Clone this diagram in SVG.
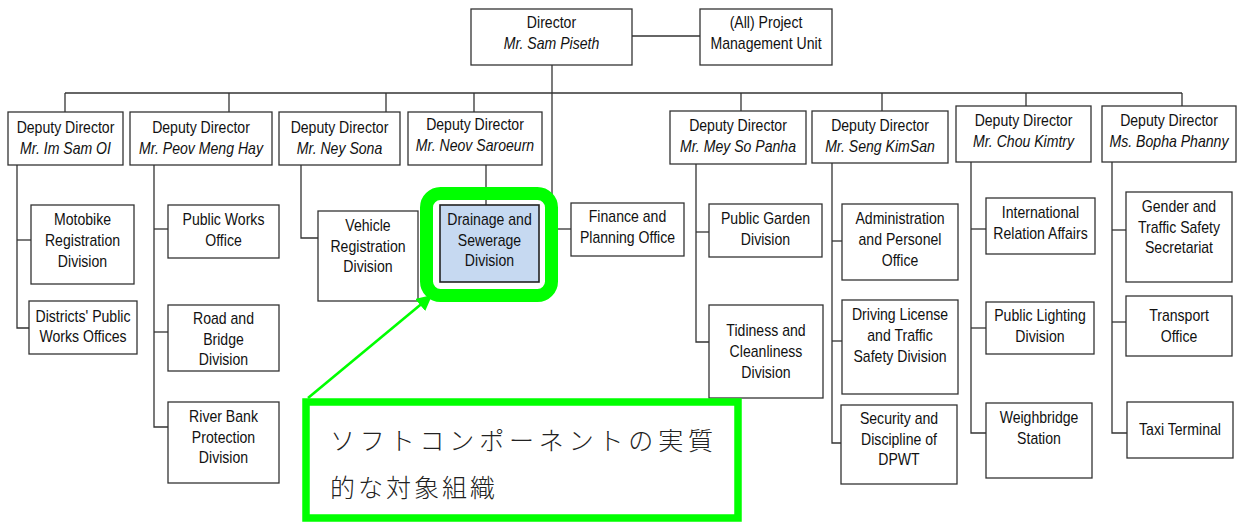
<svg xmlns="http://www.w3.org/2000/svg" width="1243" height="522" viewBox="0 0 1243 522">
<defs>
<style>
.b{fill:#fff;stroke:#333;stroke-width:1.3}
.t{font-family:"Liberation Sans",Arial,sans-serif;font-size:16px;fill:#111;text-anchor:middle}
.i{font-style:italic}
.c line,.c polyline{stroke:#333;stroke-width:1.3;fill:none}
.jp{font-family:"Noto Sans CJK JP",sans-serif;font-size:25px;font-weight:300;fill:#222}
</style>
<marker id="ah" viewBox="0 0 10 10" refX="9" refY="5" markerWidth="6" markerHeight="6" markerUnits="strokeWidth" orient="auto">
<path d="M0,0 L10,5 L0,10 z" fill="#00ff00"/>
</marker>
</defs>
<rect width="1243" height="522" fill="#fff"/>

<g class="c" id="connectors">
<line x1="632" y1="36" x2="700" y2="36"/>
<line x1="65" y1="93" x2="1182" y2="93"/>
<line x1="552" y1="65" x2="552" y2="229"/>
<line x1="552" y1="229" x2="571" y2="229"/>
<line x1="65" y1="93" x2="65" y2="112"/>
<line x1="229" y1="93" x2="229" y2="112"/>
<line x1="386" y1="93" x2="386" y2="112"/>
<line x1="474" y1="93" x2="474" y2="112"/>
<line x1="741" y1="93" x2="741" y2="111"/>
<line x1="882" y1="93" x2="882" y2="111"/>
<line x1="1026" y1="93" x2="1026" y2="106"/>
<line x1="1182" y1="93" x2="1182" y2="106"/>
<polyline points="17,165 17,328 29,328"/>
<line x1="17" y1="240" x2="31" y2="240"/>
<polyline points="154,165 154,427 168,427"/>
<line x1="154" y1="229" x2="168" y2="229"/>
<line x1="154" y1="332" x2="168" y2="332"/>
<polyline points="301,165 301,238 318,238"/>
<line x1="486" y1="165" x2="486" y2="205"/>
<polyline points="696,164 696,342 709,342"/>
<line x1="696" y1="232" x2="709" y2="232"/>
<polyline points="832,163 832,443 841,443"/>
<line x1="832" y1="241" x2="842" y2="241"/>
<line x1="832" y1="341" x2="842" y2="341"/>
<polyline points="971,162 971,433 986,433"/>
<line x1="971" y1="229" x2="986" y2="229"/>
<line x1="971" y1="328" x2="986" y2="328"/>
<polyline points="1112,162 1112,433 1127,433"/>
<line x1="1112" y1="230" x2="1126" y2="230"/>
<line x1="1112" y1="322" x2="1126" y2="322"/>
</g>

<g id="director"><rect class="b" x="471" y="9" width="161" height="56"/>
<g transform="translate(551.5 0) scale(0.88 1)"><text class="t" x="0" y="28">Director</text><text class="t i" x="0" y="49">Mr. Sam Piseth</text></g></g>
<g id="pmu"><rect class="b" x="700" y="9" width="132" height="56"/>
<g transform="translate(766 0) scale(0.88 1)"><text class="t" x="0" y="28">(All) Project</text><text class="t" x="0" y="49">Management Unit</text></g></g>

<g id="dd-imsam"><rect class="b" x="8" y="112" width="115" height="53"/>
<g transform="translate(65.5 0) scale(0.88 1)"><text class="t" x="0" y="133">Deputy Director</text><text class="t i" x="0" y="154">Mr. Im Sam OI</text></g></g>
<g id="dd-peov"><rect class="b" x="130" y="112" width="142" height="53"/>
<g transform="translate(201 0) scale(0.88 1)"><text class="t" x="0" y="133">Deputy Director</text><text class="t i" x="0" y="154">Mr. Peov Meng Hay</text></g></g>
<g id="dd-ney"><rect class="b" x="279" y="112" width="121" height="53"/>
<g transform="translate(339.5 0) scale(0.88 1)"><text class="t" x="0" y="133">Deputy Director</text><text class="t i" x="0" y="154">Mr. Ney Sona</text></g></g>
<g id="dd-neov"><rect class="b" x="408" y="112" width="134" height="53"/>
<g transform="translate(475 0) scale(0.88 1)"><text class="t" x="0" y="130">Deputy Director</text><text class="t i" x="0" y="151">Mr. Neov Saroeurn</text></g></g>
<g id="dd-mey"><rect class="b" x="670" y="111" width="136" height="53"/>
<g transform="translate(738 0) scale(0.88 1)"><text class="t" x="0" y="131">Deputy Director</text><text class="t i" x="0" y="152">Mr. Mey So Panha</text></g></g>
<g id="dd-seng"><rect class="b" x="812" y="111" width="136" height="52"/>
<g transform="translate(880 0) scale(0.88 1)"><text class="t" x="0" y="131">Deputy Director</text><text class="t i" x="0" y="152">Mr. Seng KimSan</text></g></g>
<g id="dd-chou"><rect class="b" x="956" y="106" width="135" height="56"/>
<g transform="translate(1023.5 0) scale(0.88 1)"><text class="t" x="0" y="126">Deputy Director</text><text class="t i" x="0" y="147">Mr. Chou Kimtry</text></g></g>
<g id="dd-bopha"><rect class="b" x="1102" y="106" width="134" height="56"/>
<g transform="translate(1169 0) scale(0.88 1)"><text class="t" x="0" y="126">Deputy Director</text><text class="t i" x="0" y="147">Ms. Bopha Phanny</text></g></g>

<g id="motobike"><rect class="b" x="31" y="205" width="103" height="79"/>
<g transform="translate(82.5 0) scale(0.88 1)"><text class="t" x="0" y="225">Motobike</text><text class="t" x="0" y="246">Registration</text><text class="t" x="0" y="267">Division</text></g></g>
<g id="districts"><rect class="b" x="29" y="301" width="108" height="53"/>
<g transform="translate(83 0) scale(0.88 1)"><text class="t" x="0" y="322">Districts' Public</text><text class="t" x="0" y="342">Works Offices</text></g></g>
<g id="pwo"><rect class="b" x="168" y="205" width="111" height="53"/>
<g transform="translate(223.5 0) scale(0.88 1)"><text class="t" x="0" y="225">Public Works</text><text class="t" x="0" y="246">Office</text></g></g>
<g id="road"><rect class="b" x="168" y="305" width="111" height="66"/>
<g transform="translate(223.5 0) scale(0.88 1)"><text class="t" x="0" y="324">Road and</text><text class="t" x="0" y="345">Bridge</text><text class="t" x="0" y="365">Division</text></g></g>
<g id="river"><rect class="b" x="168" y="402" width="111" height="81"/>
<g transform="translate(223.5 0) scale(0.88 1)"><text class="t" x="0" y="422">River Bank</text><text class="t" x="0" y="443">Protection</text><text class="t" x="0" y="463">Division</text></g></g>
<g id="vehicle"><rect class="b" x="318" y="211" width="100" height="90"/>
<g transform="translate(368 0) scale(0.88 1)"><text class="t" x="0" y="231">Vehicle</text><text class="t" x="0" y="252">Registration</text><text class="t" x="0" y="272">Division</text></g></g>
<g id="drainage"><rect x="440" y="205" width="99" height="77" fill="#c6d9f1" stroke="#222" stroke-width="1.6"/>
<g transform="translate(489.5 0) scale(0.88 1)"><text class="t" x="0" y="225">Drainage and</text><text class="t" x="0" y="246">Sewerage</text><text class="t" x="0" y="266">Division</text></g></g>
<g id="finance"><rect class="b" x="571" y="203" width="113" height="53"/>
<g transform="translate(627.5 0) scale(0.88 1)"><text class="t" x="0" y="222">Finance and</text><text class="t" x="0" y="243">Planning Office</text></g></g>
<g id="garden"><rect class="b" x="709" y="204" width="113" height="53"/>
<g transform="translate(765.5 0) scale(0.88 1)"><text class="t" x="0" y="224">Public Garden</text><text class="t" x="0" y="245">Division</text></g></g>
<g id="tidiness"><rect class="b" x="709" y="305" width="114" height="93"/>
<g transform="translate(766 0) scale(0.88 1)"><text class="t" x="0" y="336">Tidiness and</text><text class="t" x="0" y="357">Cleanliness</text><text class="t" x="0" y="378">Division</text></g></g>
<g id="admin"><rect class="b" x="842" y="204" width="116" height="76"/>
<g transform="translate(900 0) scale(0.88 1)"><text class="t" x="0" y="224">Administration</text><text class="t" x="0" y="245">and Personel</text><text class="t" x="0" y="266">Office</text></g></g>
<g id="driving"><rect class="b" x="842" y="300" width="116" height="94"/>
<g transform="translate(900 0) scale(0.88 1)"><text class="t" x="0" y="320">Driving License</text><text class="t" x="0" y="341">and Traffic</text><text class="t" x="0" y="362">Safety Division</text></g></g>
<g id="security"><rect class="b" x="841" y="405" width="116" height="79"/>
<g transform="translate(899 0) scale(0.88 1)"><text class="t" x="0" y="424">Security and</text><text class="t" x="0" y="445">Discipline of</text><text class="t" x="0" y="465">DPWT</text></g></g>
<g id="international"><rect class="b" x="986" y="198" width="109" height="56"/>
<g transform="translate(1040.5 0) scale(0.88 1)"><text class="t" x="0" y="218">International</text><text class="t" x="0" y="239">Relation Affairs</text></g></g>
<g id="lighting"><rect class="b" x="986" y="302" width="108" height="52"/>
<g transform="translate(1040 0) scale(0.88 1)"><text class="t" x="0" y="321">Public Lighting</text><text class="t" x="0" y="342">Division</text></g></g>
<g id="weighbridge"><rect class="b" x="986" y="403" width="106" height="75"/>
<g transform="translate(1039 0) scale(0.88 1)"><text class="t" x="0" y="423">Weighbridge</text><text class="t" x="0" y="444">Station</text></g></g>
<g id="gender"><rect class="b" x="1126" y="192" width="106" height="90"/>
<g transform="translate(1179 0) scale(0.88 1)"><text class="t" x="0" y="212">Gender and</text><text class="t" x="0" y="233">Traffic Safety</text><text class="t" x="0" y="253">Secretariat</text></g></g>
<g id="transport"><rect class="b" x="1126" y="296" width="106" height="60"/>
<g transform="translate(1179 0) scale(0.88 1)"><text class="t" x="0" y="321">Transport</text><text class="t" x="0" y="342">Office</text></g></g>
<g id="taxi"><rect class="b" x="1127" y="402" width="106" height="56"/>
<g transform="translate(1180 0) scale(0.88 1)"><text class="t" x="0" y="435">Taxi Terminal</text></g></g>

<g id="highlight">
<rect x="426.5" y="193.5" width="125" height="102" rx="14" ry="14" fill="none" stroke="#00ff00" stroke-width="13"/>
<line x1="308" y1="398" x2="431" y2="296" stroke="#00ff00" stroke-width="2.6" marker-end="url(#ah)"/>
</g>
<g id="note">
<rect x="306" y="402" width="432" height="116" fill="#fff" stroke="#00ff00" stroke-width="7.5"/>
<text class="jp" x="330" y="450" textLength="383" lengthAdjust="spacing">ソフトコンポーネントの実質</text>
<text class="jp" x="330" y="497" textLength="165" lengthAdjust="spacing">的な対象組織</text>
</g>
</svg>
